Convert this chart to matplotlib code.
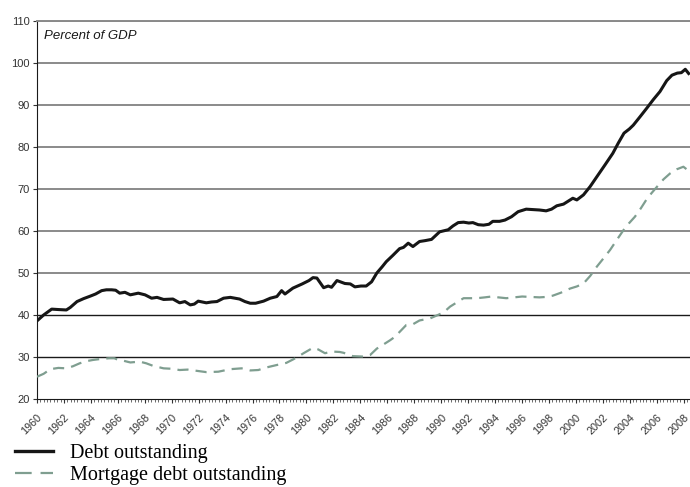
import matplotlib.pyplot as plt
from matplotlib.ticker import MultipleLocator
from matplotlib.lines import Line2D
import matplotlib.transforms as mtransforms

# debt outstanding, percent of GDP
debt_years = [1960.0, 1960.49, 1961.09, 1961.58, 1962.18, 1962.47, 1962.97, 1963.46, 1963.96, 1964.35,
              1964.8, 1965.15, 1965.54, 1965.84, 1966.14, 1966.53, 1966.93, 1967.52, 1968.02, 1968.51,
              1968.91, 1969.4, 1970.09, 1970.59, 1970.98, 1971.38, 1971.68, 1971.97, 1972.57, 1972.96,
              1973.36, 1973.85, 1974.35, 1975.04, 1975.44, 1975.83, 1976.23, 1976.82, 1977.32, 1977.81,
              1978.16, 1978.41, 1979.0, 1979.69, 1980.19, 1980.49, 1980.78, 1981.28, 1981.62, 1981.87,
              1982.27, 1982.86, 1983.26, 1983.6, 1984.05, 1984.44, 1984.84, 1985.23, 1985.63, 1985.93,
              1986.42, 1986.92, 1987.21, 1987.56, 1987.91, 1988.4, 1988.8, 1989.29, 1989.89, 1990.53,
              1990.88, 1991.27, 1991.67, 1992.06, 1992.36, 1992.76, 1993.15, 1993.55, 1993.84, 1994.34,
              1994.74, 1995.23, 1995.72, 1996.32, 1996.81, 1997.31, 1997.8, 1998.2, 1998.59, 1999.09,
              1999.78, 2000.08, 2000.57, 2001.07, 2001.56, 2002.16, 2002.75, 2003.15, 2003.58, 2003.98,
              2004.27, 2004.77, 2005.26, 2005.76, 2006.25, 2006.75, 2007.14, 2007.54, 2007.84, 2008.13,
              2008.38]
debt = [38.6, 40.0, 41.4, 41.3, 41.2, 41.8, 43.2, 43.9, 44.5, 45.0,
        45.8, 46.0, 46.0, 45.9, 45.2, 45.4, 44.8, 45.2, 44.8, 44.0,
        44.2, 43.7, 43.8, 42.9, 43.2, 42.4, 42.6, 43.3, 42.9, 43.1,
        43.2, 44.0, 44.2, 43.8, 43.2, 42.8, 42.8, 43.3, 44.0, 44.4,
        45.8, 45.0, 46.4, 47.4, 48.2, 48.9, 48.8, 46.5, 46.9, 46.6,
        48.2, 47.5, 47.4, 46.7, 46.9, 46.9, 47.9, 50.0, 51.5, 52.7,
        54.2, 55.8, 56.1, 57.1, 56.3, 57.5, 57.7, 58.0, 59.8, 60.3,
        61.2, 62.0, 62.1, 61.9, 62.0, 61.5, 61.4, 61.6, 62.3, 62.3,
        62.6, 63.4, 64.6, 65.2, 65.1, 65.0, 64.8, 65.2, 66.0, 66.4,
        67.8, 67.4, 68.6, 70.6, 72.9, 75.7, 78.5, 80.9, 83.3, 84.3,
        85.2, 87.2, 89.2, 91.3, 93.2, 95.8, 97.1, 97.6, 97.7, 98.5,
        97.5]

# mortgage debt outstanding, percent of GDP
mort_years = [1960.0, 1960.49, 1960.99, 1961.58, 1962.18, 1962.67, 1963.17, 1963.66, 1964.16, 1964.65,
              1965.34, 1965.74, 1966.04, 1966.43, 1966.93, 1967.62, 1968.11, 1968.61, 1969.4, 1969.99,
              1970.59, 1971.18, 1971.88, 1972.57, 1973.46, 1974.35, 1975.19, 1975.83, 1976.43, 1977.02,
              1977.81, 1978.51, 1979.0, 1979.39, 1979.79, 1980.49, 1980.88, 1981.38, 1981.87, 1982.47,
              1982.76, 1983.45, 1984.24, 1984.74, 1985.23, 1985.73, 1986.22, 1986.57, 1987.02, 1987.41,
              1987.91, 1988.4, 1989.19, 1989.69, 1990.18, 1990.67, 1991.17, 1991.67, 1992.16, 1992.66,
              1993.25, 1993.75, 1994.24, 1994.84, 1995.43, 1996.02, 1996.62, 1997.31, 1997.8, 1998.29,
              1998.89, 1999.58, 2000.08, 2000.57, 2001.07, 2001.56, 2002.06, 2002.55, 2003.05, 2003.54,
              2003.94, 2004.39, 2004.83, 2005.23, 2005.62, 2006.02, 2006.51, 2007.0, 2007.5, 2007.99,
              2008.47]
mortgage = [25.3, 26.0, 27.1, 27.4, 27.3, 27.8, 28.5, 29.0, 29.3, 29.5,
            29.7, 29.7, 29.3, 29.1, 28.7, 28.9, 28.5, 27.9, 27.3, 27.2,
            26.9, 27.0, 26.7, 26.4, 26.5, 27.1, 27.3, 26.8, 26.9, 27.5,
            28.1, 28.6, 29.4, 30.1, 30.9, 32.2, 31.8, 30.9, 31.3, 31.2,
            31.0, 30.2, 30.1, 30.5, 32.0, 33.0, 34.0, 34.8, 36.3, 37.6,
            37.8, 38.7, 39.2, 39.9, 40.6, 42.0, 43.0, 44.0, 44.0, 44.0,
            44.2, 44.4, 44.2, 44.0, 44.2, 44.4, 44.3, 44.2, 44.3, 44.6,
            45.3, 46.3, 46.8, 47.5, 49.3, 51.5, 53.5, 55.5, 57.9, 60.2,
            61.8, 63.4, 65.4, 67.4, 69.0, 70.5, 72.3, 73.7, 74.7, 75.3,
            74.1]

year_ticks = list(range(1960, 2009, 2))
y_ticks = list(range(20, 111, 10))

BLACK = '#161616'
SAGE = '#7f9e90'

fig = plt.figure(figsize=(6.9, 4.87), dpi=100)
ax = fig.add_axes([37/690, 1 - 399/487, 1 - 37/690, (399 - 21)/487])

# horizontal grid, the 30 and 40 lines come out darker in the original
for v in y_ticks[1:]:
    dark = v in (30, 40)
    ax.axhline(v, color='#1a1a1a' if dark else '#8a8a8a', lw=1.0 if dark else 1.4, zorder=1)

ax.plot(debt_years, debt, color=BLACK, lw=2.2, zorder=3)
ax.plot(mort_years, mortgage, color=SAGE, lw=1.6, dashes=(5, 3.2), zorder=3)

ax.set_xlim(1960, 2008.48)
ax.set_ylim(20, 110)
ax.set_yticks(y_ticks)
ax.set_xticks(year_ticks)
ax.xaxis.set_minor_locator(MultipleLocator(0.25))
ax.set_xticklabels([str(y) for y in year_ticks], rotation=45, ha='right',
                   rotation_mode='anchor', fontsize=7.8, color='#333333',
                   family='Liberation Sans')
shift = mtransforms.ScaledTranslation(-5/100, 0, fig.dpi_scale_trans)
for lab in ax.get_xticklabels():
    lab.set_transform(lab.get_transform() + shift)
for lab in ax.get_yticklabels():
    lab.set_fontsize(8)
    lab.set_color('#333333')
    lab.set_family('Liberation Sans')

ax.tick_params(axis='x', which='major', length=3, width=0.8, pad=6.5, color='#333333')
ax.tick_params(axis='x', which='minor', length=2.5, width=0.6, color='#555555')
ax.tick_params(axis='y', length=3, width=0.8, pad=2, color='#333333')

ax.spines['right'].set_visible(False)
ax.spines['top'].set_color('#8a8a8a')
ax.spines['top'].set_linewidth(1.4)
ax.spines['left'].set_color('#1a1a1a')
ax.spines['bottom'].set_color('#1a1a1a')

ax.text(0.01, 0.975, 'Percent of GDP', transform=ax.transAxes, ha='left', va='top',
        fontsize=9.5, style='italic', family='Liberation Sans', color='#1a1a1a')

# legend below the plot, with longer dashes than the plotted line
handles = [Line2D([], [], color=BLACK, lw=2.4),
           Line2D([], [], color=SAGE, lw=1.6, dashes=(7.5, 4))]
labels = ['Debt outstanding', 'Mortgage debt outstanding']
fig.legend(handles, labels, loc='upper left', bbox_to_anchor=(15/690, 1 - 444/487),
           frameon=False, prop={'family': 'Liberation Serif', 'size': 14.5},
           handlelength=1.9, handletextpad=0.85, labelspacing=0.12,
           borderpad=0, borderaxespad=0)

fig.savefig('out.png', dpi=100)
